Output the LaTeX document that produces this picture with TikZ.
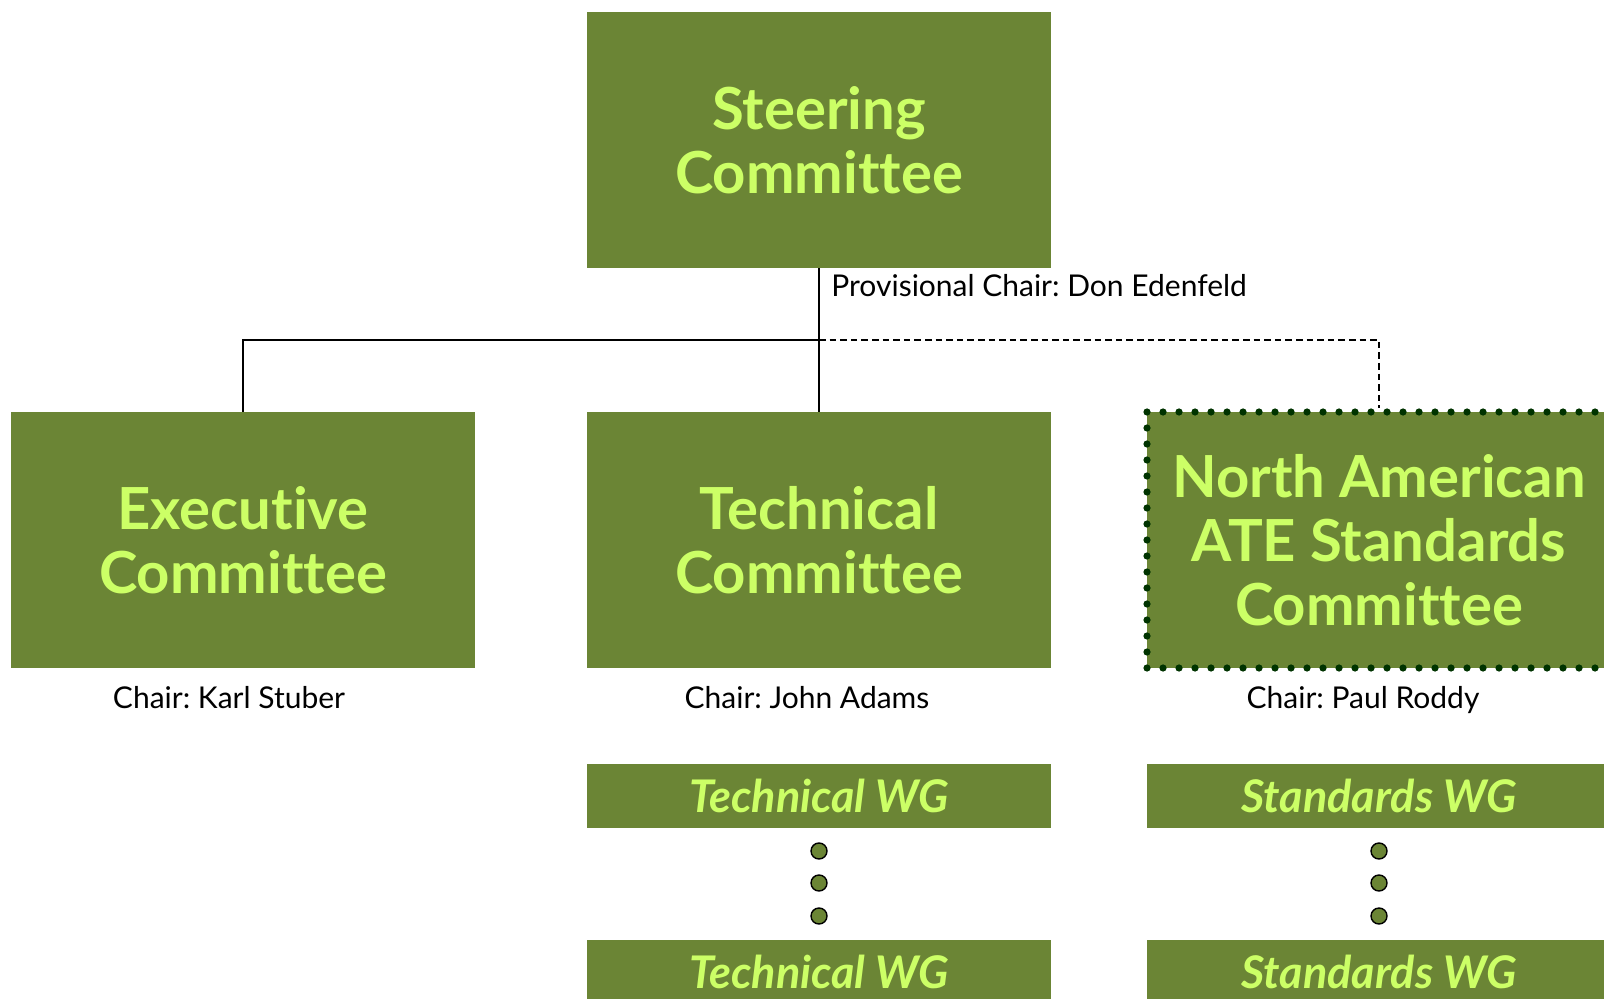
\documentclass[tikz,border=0pt]{standalone}
\usepackage{fontspec}
\setmainfont{Lato}[Ligatures=NoCommon]
\usetikzlibrary{positioning}
\definecolor{olivebox}{HTML}{6B8535}
\definecolor{limetext}{HTML}{CCFF66}
\definecolor{darkdots}{HTML}{003300}
\frenchspacing

\begin{document}
\begin{tikzpicture}[x=0.5pt, y=-0.5pt,
  comm/.style={fill=olivebox, text=limetext, font=\bfseries\fontsize{29}{32}\selectfont, minimum width=232pt, minimum height=128pt, align=center, inner sep=0pt},
  wg/.style={fill=olivebox, text=limetext, font=\bfseries\itshape\fontsize{22.5}{26}\selectfont, minimum width=232pt, minimum height=32pt, inner sep=0pt},
  chair/.style={font=\fontsize{15}{17}\selectfont, text=black, inner sep=0pt, anchor=base},
  wgdot/.style={draw=black, fill=olivebox, circle, line width=0.7pt, minimum size=8pt, inner sep=0pt},
  link/.style={line width=0.7pt}]
\clip (0,0) rectangle (1604,999);
%============ committees
\node[comm] (steer) at (819,140) {Steering\\Committee};
\node[comm] (exec) at (243,540) {Executive\\Committee};
\node[comm] (tech) at (819,540) {Technical\\Committee};
\node[comm, draw=darkdots, line width=3.6pt, line cap=round, dash pattern=on 0pt off 8pt] (nate) at (1379,540) {North American\\ATE Standards\\Committee};
%============ chairs
\node[chair, anchor=base west] (steerChair) at (831,297) {Provisional Chair: Don Edenfeld};
\node[chair] (execChair) at (229,708) {Chair: Karl Stuber};
\node[chair] (techChair) at (807,708) {Chair: John Adams};
\node[chair] (nateChair) at (1363,708) {Chair: Paul Roddy};
%============ working groups
\node[wg] (techWGa) at (819,796) {Technical WG};
\node[wg] (techWGb) at (819,972) {Technical WG};
\node[wg] (stdWGa) at (1379,796) {Standards WG};
\node[wg] (stdWGb) at (1379,972) {Standards WG};
\foreach \y [count=\i] in {851,883,916} {
  \node[wgdot] (techDot\i) at (819,\y) {};
  \node[wgdot] (stdDot\i) at (1379,\y) {};
}
%============ links
\coordinate (split) at (819,340);
\draw[link] (steer.south) -- (tech.north);
\draw[link] (split) -| (exec.north);
\draw[link, dash pattern=on 3.3pt off 2pt] (split) -| (nate.north);
\end{tikzpicture}
\end{document}
